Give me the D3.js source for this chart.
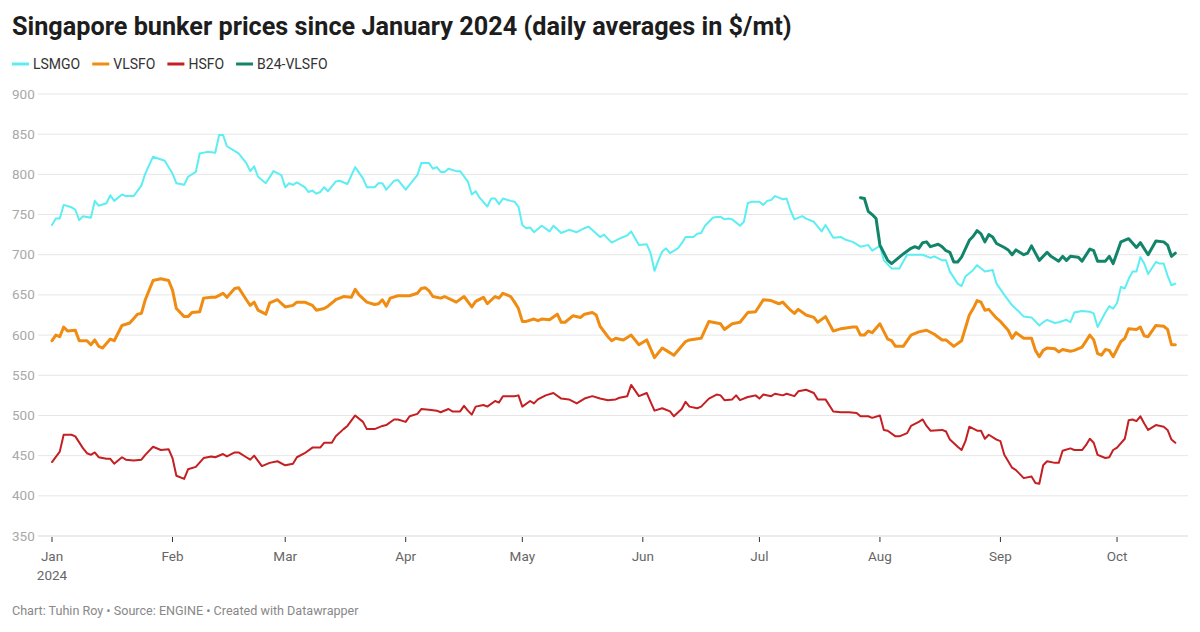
<!DOCTYPE html>
<html>
<head>
<meta charset="utf-8">
<script src="https://cdn.jsdelivr.net/npm/d3@7"></script>
<style>
body{margin:0;background:#fff;font-family:Roboto,"Noto Sans",sans-serif;}
svg text{font-family:Roboto,"Noto Sans",sans-serif;}
</style>
</head>
<body>
<svg id="chart" width="1200" height="632"></svg>
<script>

// ===============================
// DATA (day of 2024, 0 = Jan 1)
// ===============================

const lsmgoDays=[0,1,2,3,5,6,7,8,10,11,12,14,15,16,18,19,21,23,24,26,29,31,32,34,35,37,38,40,42,43,44,45,48,50,51,52,53,55,57,59,60,61,62,63,65,66,67,68,69,70,71,73,74,76,78,80,81,83,84,85,86,88,89,91,93,94,95,97,98,99,100,101,102,104,105,107,108,109,110,112,113,114,115,116,118,119,120,121,122,123,124,126,128,129,131,133,135,137,138,141,142,144,146,147,148,149,151,153,154,155,156,157,158,159,161,162,163,165,166,167,168,170,171,172,173,174,175,177,178,179,180,182,183,184,185,186,187,188,189,190,191,193,194,196,198,199,201,203,204,206,208,209,210,211,213,214,216,218,220,222,224,226,227,229,230,231,233,234,235,237,238,240,242,243,245,247,249,250,252,254,255,256,258,259,261,262,263,265,267,268,269,271,272,273,274,275,276,277,278,279,280,281,282,284,285,286,287,288,289];
const lsmgoValues=[737,745,745,762,759,756,743,748,746,767,761,764,774,767,775,773,773,786,801,822,817,801,789,787,797,803,826,828,827,849,849,835,826,814,804,810,797,789,804,799,784,789,787,790,784,778,780,776,778,784,779,791,792,788,809,795,784,784,789,789,781,792,793,781,793,799,814,814,807,809,803,803,807,804,804,791,775,779,771,760,770,770,763,770,767,766,760,737,733,734,728,736,729,736,727,731,728,733,735,722,725,715,720,722,724,729,712,713,702,680,693,704,708,702,708,714,722,722,726,727,736,746,747,747,744,745,744,736,741,764,766,766,762,767,768,773,771,769,770,755,744,748,745,741,729,737,721,722,719,716,710,711,712,705,711,693,683,683,700,700,700,696,698,693,693,679,664,661,673,681,687,679,681,664,650,637,628,623,622,612,616,619,615,616,619,616,628,630,629,627,610,628,636,633,640,660,658,670,679,679,697,689,676,691,689,689,674,662,664];

const vlsfoDays=[0,1,2,3,4,6,7,9,10,11,12,13,15,16,18,20,22,23,24,26,28,30,31,32,34,35,36,38,39,41,42,44,45,47,48,50,51,52,53,55,56,58,60,62,63,65,67,68,70,71,73,75,77,78,79,81,83,84,85,86,87,89,92,94,95,96,97,98,100,101,104,106,108,109,111,112,114,115,116,118,119,120,121,122,124,125,126,128,130,131,132,134,136,137,139,140,141,143,144,145,147,149,151,153,155,157,158,160,163,164,167,169,172,173,175,177,179,181,183,185,187,188,190,191,192,194,196,197,199,201,203,206,207,208,209,210,211,213,215,216,217,219,221,223,225,227,229,230,232,234,236,237,238,239,240,241,243,244,246,247,248,250,252,253,254,255,256,258,259,260,262,263,265,267,268,269,270,271,272,273,275,276,277,279,280,281,282,284,286,287,288,289];
const vlsfoValues=[593,600,598,610,605,606,593,593,588,594,586,584,595,593,612,615,626,627,644,668,670,668,656,633,623,623,628,629,646,647,647,652,647,658,659,644,637,641,631,626,640,644,635,637,641,641,637,631,633,636,644,648,647,657,650,641,638,639,644,636,646,649,649,652,658,659,655,648,646,648,641,648,635,642,647,639,648,646,652,648,641,633,617,617,620,618,620,619,626,616,616,624,622,626,628,625,611,598,593,596,594,600,588,594,572,584,581,575,592,594,596,617,614,607,614,616,628,629,644,643,639,641,631,627,632,625,622,616,623,605,608,610,610,600,600,605,603,614,595,593,586,586,600,604,606,601,594,594,586,593,625,633,643,641,631,632,621,617,606,596,603,596,596,581,573,581,584,583,579,582,580,581,585,600,594,577,575,582,581,573,592,596,608,607,610,599,598,612,611,607,588,588];

const hsfoDays=[0,2,3,5,6,8,9,10,11,12,14,15,16,18,19,21,23,24,26,28,30,31,32,34,35,37,39,41,42,44,45,47,48,50,51,52,54,56,58,60,62,63,65,67,69,70,72,73,75,76,78,80,81,83,85,86,88,89,91,92,94,95,97,99,100,102,103,105,106,107,108,109,111,112,114,115,116,119,120,121,123,124,125,127,129,131,133,135,137,139,141,143,145,146,148,149,151,153,154,155,157,159,160,162,163,164,166,167,169,171,172,173,175,176,177,179,180,181,182,183,185,186,188,189,191,192,194,196,197,199,201,203,205,207,208,210,211,213,214,215,217,218,220,221,223,224,225,226,229,230,231,233,234,235,236,238,239,240,241,243,244,245,247,248,250,252,253,254,255,256,258,259,260,262,263,265,266,267,268,269,271,272,273,274,276,277,278,279,280,281,282,284,286,287,288,289];
const hsfoValues=[442,455,476,476,474,459,453,451,454,448,446,446,440,448,445,444,445,451,461,457,458,447,425,421,433,436,447,449,448,452,449,454,454,448,445,450,437,441,443,438,440,448,453,460,460,466,466,474,483,487,500,492,483,483,487,488,495,495,492,499,502,508,507,506,504,508,505,505,512,506,501,511,513,511,518,516,524,524,525,511,518,515,520,525,528,521,520,515,521,524,521,519,520,522,524,538,524,528,517,506,509,505,499,508,517,511,509,511,521,526,525,519,520,525,519,523,524,525,521,526,524,527,525,527,524,530,532,528,520,520,505,504,504,503,499,499,497,500,482,481,474,474,478,487,492,495,487,481,482,480,470,461,457,468,486,481,481,471,476,470,468,451,435,432,422,424,416,415,438,443,441,441,456,459,457,457,463,471,466,451,447,448,457,460,471,494,495,493,499,490,482,488,486,482,470,466];

const b24Days=[208,209,210,211,212,213,215,216,218,219,221,222,223,224,225,226,228,229,230,231,232,233,234,236,237,238,239,240,241,242,243,245,246,247,248,250,251,252,254,256,257,259,260,261,262,264,265,267,268,269,271,272,273,275,277,279,280,282,284,286,287,288,289];
const b24Values=[771,770,754,750,745,712,693,689,697,701,708,710,708,715,716,710,713,710,705,703,691,691,697,718,723,730,726,716,725,722,714,709,706,700,706,700,702,711,693,703,698,692,698,693,698,697,692,707,705,692,692,698,689,716,720,709,715,700,717,716,712,698,702];

const seriesNames=["LSMGO","VLSFO","HSFO","B24-VLSFO"];
const seriesColors=["#5ceef2","#f08c12","#c41f22","#12846a"];
const seriesWidths=[2,3,2,3];

const yTicks=[350,400,450,500,550,600,650,700,750,800,850,900];
const monthLabels=["Jan","Feb","Mar","Apr","May","Jun","Jul","Aug","Sep","Oct"];

// ===============================
// SETUP
// ===============================

const svg=d3.select("#chart");

const start=new Date(2024,0,1);

const toDate=d=>d3.timeDay.offset(start,d);

const x=d3.scaleTime()
    .domain([start,toDate(290)])
    .range([52,52+290*3.887]);

const y=d3.scaleLinear()
    .domain([350,900])
    .range([536,94]);

const series=[
    {days:lsmgoDays,values:lsmgoValues},
    {days:vlsfoDays,values:vlsfoValues},
    {days:hsfoDays,values:hsfoValues},
    {days:b24Days,values:b24Values}
].map((s,i)=>({
    name:seriesNames[i],
    color:seriesColors[i],
    width:seriesWidths[i],
    points:s.days.map((d,j)=>({date:toDate(d),value:s.values[j]}))
}));

// shrink/grow a text until it spans the wanted width
function fitWidth(sel,width){
    const size=+sel.attr("font-size");
    const w=sel.node().getComputedTextLength();
    sel.attr("font-size",size*width/w);
}

// ===============================
// TITLE + LEGEND
// ===============================

const title=svg.append("text")
    .attr("x",12)
    .attr("y",35)
    .attr("font-size",24)
    .attr("font-weight",700)
    .attr("fill","#1d1d1d")
    .text("Singapore bunker prices since January 2024 (daily averages in $/mt)");

fitWidth(title,780);

const legend=svg.append("g").attr("transform","translate(12,64)");

let lx=0;

series.forEach(s=>{

    legend.append("line")
        .attr("x1",lx).attr("x2",lx+17)
        .attr("y1",0).attr("y2",0)
        .attr("stroke",s.color)
        .attr("stroke-width",3);

    const t=legend.append("text")
        .attr("x",lx+21)
        .attr("y",5)
        .attr("font-size",14)
        .attr("fill","#333")
        .text(s.name);

    lx+=21+t.node().getComputedTextLength()+12;

});

// ===============================
// GRID + Y AXIS
// ===============================

const grid=svg.append("g");

yTicks.forEach(v=>{

    grid.append("line")
        .attr("x1",38).attr("x2",1188)
        .attr("y1",y(v)).attr("y2",y(v))
        .attr("stroke",v===350?"#d9d9d9":"#e6e6e6")
        .attr("stroke-width",1);

    grid.append("text")
        .attr("x",12)
        .attr("y",y(v)+4.5)
        .attr("font-size",13.5)
        .attr("fill","#a8a8a8")
        .text(v);

});

// ===============================
// X AXIS
// ===============================

const xAxis=svg.append("g");

monthLabels.forEach((m,i)=>{

    const px=x(new Date(2024,i,1));

    xAxis.append("line")
        .attr("x1",px).attr("x2",px)
        .attr("y1",537).attr("y2",542)
        .attr("stroke","#333")
        .attr("stroke-width",1);

    xAxis.append("text")
        .attr("x",px)
        .attr("y",561)
        .attr("text-anchor","middle")
        .attr("font-size",13.5)
        .attr("fill","#666")
        .text(m);

});

xAxis.append("text")
    .attr("x",x(start))
    .attr("y",580)
    .attr("text-anchor","middle")
    .attr("font-size",13.5)
    .attr("fill","#666")
    .text("2024");

// ===============================
// LINES
// ===============================

const line=d3.line()
    .x(d=>x(d.date))
    .y(d=>y(d.value));

series.forEach(s=>{

    svg.append("path")
        .datum(s.points)
        .attr("fill","none")
        .attr("stroke",s.color)
        .attr("stroke-width",s.width)
        .attr("stroke-linejoin","round")
        .attr("stroke-linecap","round")
        .attr("d",line);

});

// ===============================
// FOOTER
// ===============================

const footer=svg.append("text")
    .attr("x",12)
    .attr("y",615)
    .attr("font-size",12.5)
    .attr("fill","#888")
    .text("Chart: Tuhin Roy \u2022 Source: ENGINE \u2022 Created with Datawrapper");

fitWidth(footer,347);

</script>
</body>
</html>
